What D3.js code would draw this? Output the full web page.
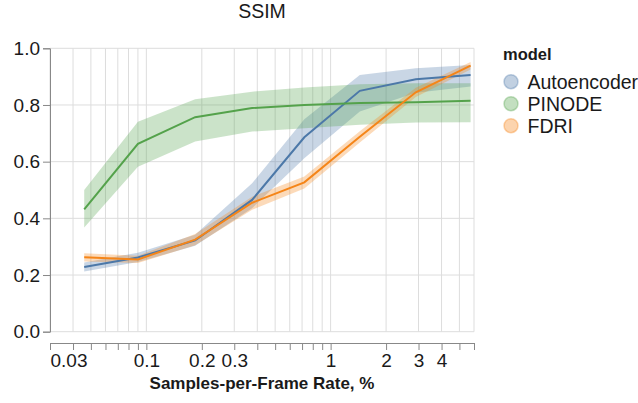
<!DOCTYPE html>
<html>
<head>
<meta charset="utf-8">
<script src="https://cdn.jsdelivr.net/npm/d3@7"></script>
<style>
  body { margin: 0; background: #fff; }
  svg { font-family: "Liberation Sans", Arial, Helvetica, sans-serif; }
</style>
</head>
<body>
<svg></svg>
<script>
// samples-per-frame rate (%)
let rates = [0.046, 0.09, 0.184, 0.375, 0.72, 1.44, 2.9, 5.75];

let models = ['Autoencoder', 'PINODE', 'FDRI'];
let colors = ['#4c78a8', '#54a24b', '#f58518'];

let aeMean = [0.228, 0.262, 0.322, 0.465, 0.686, 0.850, 0.891, 0.906];
let aeLow  = [0.212, 0.246, 0.303, 0.436, 0.612, 0.777, 0.843, 0.865];
let aeHigh = [0.244, 0.279, 0.342, 0.524, 0.750, 0.906, 0.930, 0.941];

let piMean = [0.432, 0.663, 0.757, 0.789, 0.800, 0.807, 0.810, 0.815];
let piLow  = [0.368, 0.582, 0.671, 0.706, 0.718, 0.730, 0.738, 0.739];
let piHigh = [0.500, 0.741, 0.820, 0.847, 0.862, 0.873, 0.877, 0.877];

let fdMean = [0.263, 0.255, 0.325, 0.455, 0.527, 0.688, 0.845, 0.939];
let fdLow  = [0.248, 0.242, 0.305, 0.430, 0.505, 0.668, 0.828, 0.925];
let fdHigh = [0.277, 0.268, 0.345, 0.476, 0.548, 0.707, 0.861, 0.952];

let xTicks = [0.03, 0.04, 0.05, 0.06, 0.07, 0.08, 0.09,
              0.1, 0.2, 0.3, 0.4, 0.5, 0.6, 0.7, 0.8, 0.9,
              1, 2, 3, 4, 5, 6];
let xLabels = [0.03, 0.1, 0.2, 0.3, 1, 2, 3, 4];
let yTicks = [0, 0.2, 0.4, 0.6, 0.8, 1.0];

let width = 638;
let height = 403;
let plotLeft = 50, plotRight = 474, plotTop = 48.3, plotBottom = 331.7;
let xAxisY = 343;

const svg = d3.select('svg').attr('width', width).attr('height', height);

let series = [
    { name: models[0], color: colors[0], mean: aeMean, low: aeLow, high: aeHigh },
    { name: models[1], color: colors[1], mean: piMean, low: piLow, high: piHigh },
    { name: models[2], color: colors[2], mean: fdMean, low: fdLow, high: fdHigh }
];

let xScale = d3.scaleLog().domain([0.03, 6]).range([plotLeft, plotRight]);
let yScale = d3.scaleLinear().domain([0, 1]).range([plotBottom, plotTop]);

// grid
let grid = svg.append('g');
grid.selectAll('line.gx')
    .data(xTicks)
    .enter()
    .append('line')
    .attr('x1', d => xScale(d)).attr('x2', d => xScale(d))
    .attr('y1', plotTop).attr('y2', plotBottom)
    .attr('stroke', '#ddd').attr('stroke-width', 1);
grid.selectAll('line.gy')
    .data(yTicks)
    .enter()
    .append('line')
    .attr('x1', plotLeft).attr('x2', plotRight)
    .attr('y1', d => yScale(d)).attr('y2', d => yScale(d))
    .attr('stroke', '#ddd').attr('stroke-width', 1);

// bands
let area = d3.area()
    .x((d, i) => xScale(rates[i]))
    .y0(d => yScale(d[0]))
    .y1(d => yScale(d[1]));

svg.append('g')
   .selectAll('path')
   .data(series)
   .enter()
   .append('path')
   .attr('d', s => area(s.low.map((v, i) => [v, s.high[i]])))
   .attr('fill', s => s.color)
   .attr('fill-opacity', 0.3);

// lines
let line = d3.line()
    .x((d, i) => xScale(rates[i]))
    .y(d => yScale(d));

svg.append('g')
   .selectAll('path')
   .data(series)
   .enter()
   .append('path')
   .attr('d', s => line(s.mean))
   .attr('fill', 'none')
   .attr('stroke', s => s.color)
   .attr('stroke-width', 2);

// y axis
let yAxis = d3.axisLeft(yScale)
    .tickValues(yTicks)
    .tickFormat(d3.format('.1f'))
    .tickSize(7)
    .tickPadding(3);
let gy = svg.append('g')
    .attr('transform', 'translate(' + plotLeft + ', 0)')
    .call(yAxis);
gy.select('.domain').attr('stroke', '#888');
gy.selectAll('.tick line').attr('stroke', '#888');
gy.selectAll('text').attr('font-size', 19).attr('fill', '#1a1a1a')
  .attr('font-family', '"Liberation Sans", Arial, sans-serif');

// x axis
let xAxis = d3.axisBottom(xScale)
    .tickValues(xTicks)
    .tickFormat(d => xLabels.includes(d) ? String(d) : '')
    .tickSizeOuter(0)
    .tickSize(7)
    .tickPadding(4);
let gx = svg.append('g')
    .attr('transform', 'translate(0, ' + xAxisY + ')')
    .call(xAxis);
gx.select('.domain').attr('stroke', '#888');
gx.selectAll('.tick line').attr('stroke', '#888');
gx.selectAll('text').attr('font-size', 19).attr('fill', '#1a1a1a')
  .attr('font-family', '"Liberation Sans", Arial, sans-serif');
gx.selectAll('.tick')
  .filter(d => d === 0.03)
  .select('text')
  .attr('text-anchor', 'start');

// titles
svg.append('text')
   .attr('x', (plotLeft + plotRight) / 2)
   .attr('y', 18)
   .attr('text-anchor', 'middle')
   .attr('font-size', 19.5)
   .attr('fill', '#1a1a1a')
   .text('SSIM');

svg.append('text')
   .attr('x', (plotLeft + plotRight) / 2)
   .attr('y', 389)
   .attr('text-anchor', 'middle')
   .attr('font-size', 17)
   .attr('font-weight', 'bold')
   .attr('fill', '#1a1a1a')
   .text('Samples-per-Frame Rate, %');

// legend
let legend = svg.append('g');
legend.append('text')
      .attr('x', 503)
      .attr('y', 60)
      .attr('font-size', 16.5)
      .attr('font-weight', 'bold')
      .attr('fill', '#1a1a1a')
      .text('model');

let items = legend.selectAll('g.item')
    .data(series)
    .enter()
    .append('g')
    .attr('transform', (d, i) => 'translate(511, ' + (81.7 + i * 22) + ')');
items.append('circle')
     .attr('r', 7)
     .attr('fill', d => d.color)
     .attr('fill-opacity', 0.35)
     .attr('stroke', d => d.color)
     .attr('stroke-opacity', 0.35)
     .attr('stroke-width', 1.5);
items.append('text')
     .attr('x', 16.5)
     .attr('dy', '0.35em')
     .attr('font-size', 19.5)
     .attr('fill', '#1a1a1a')
     .text(d => d.name);
</script>
</body>
</html>
